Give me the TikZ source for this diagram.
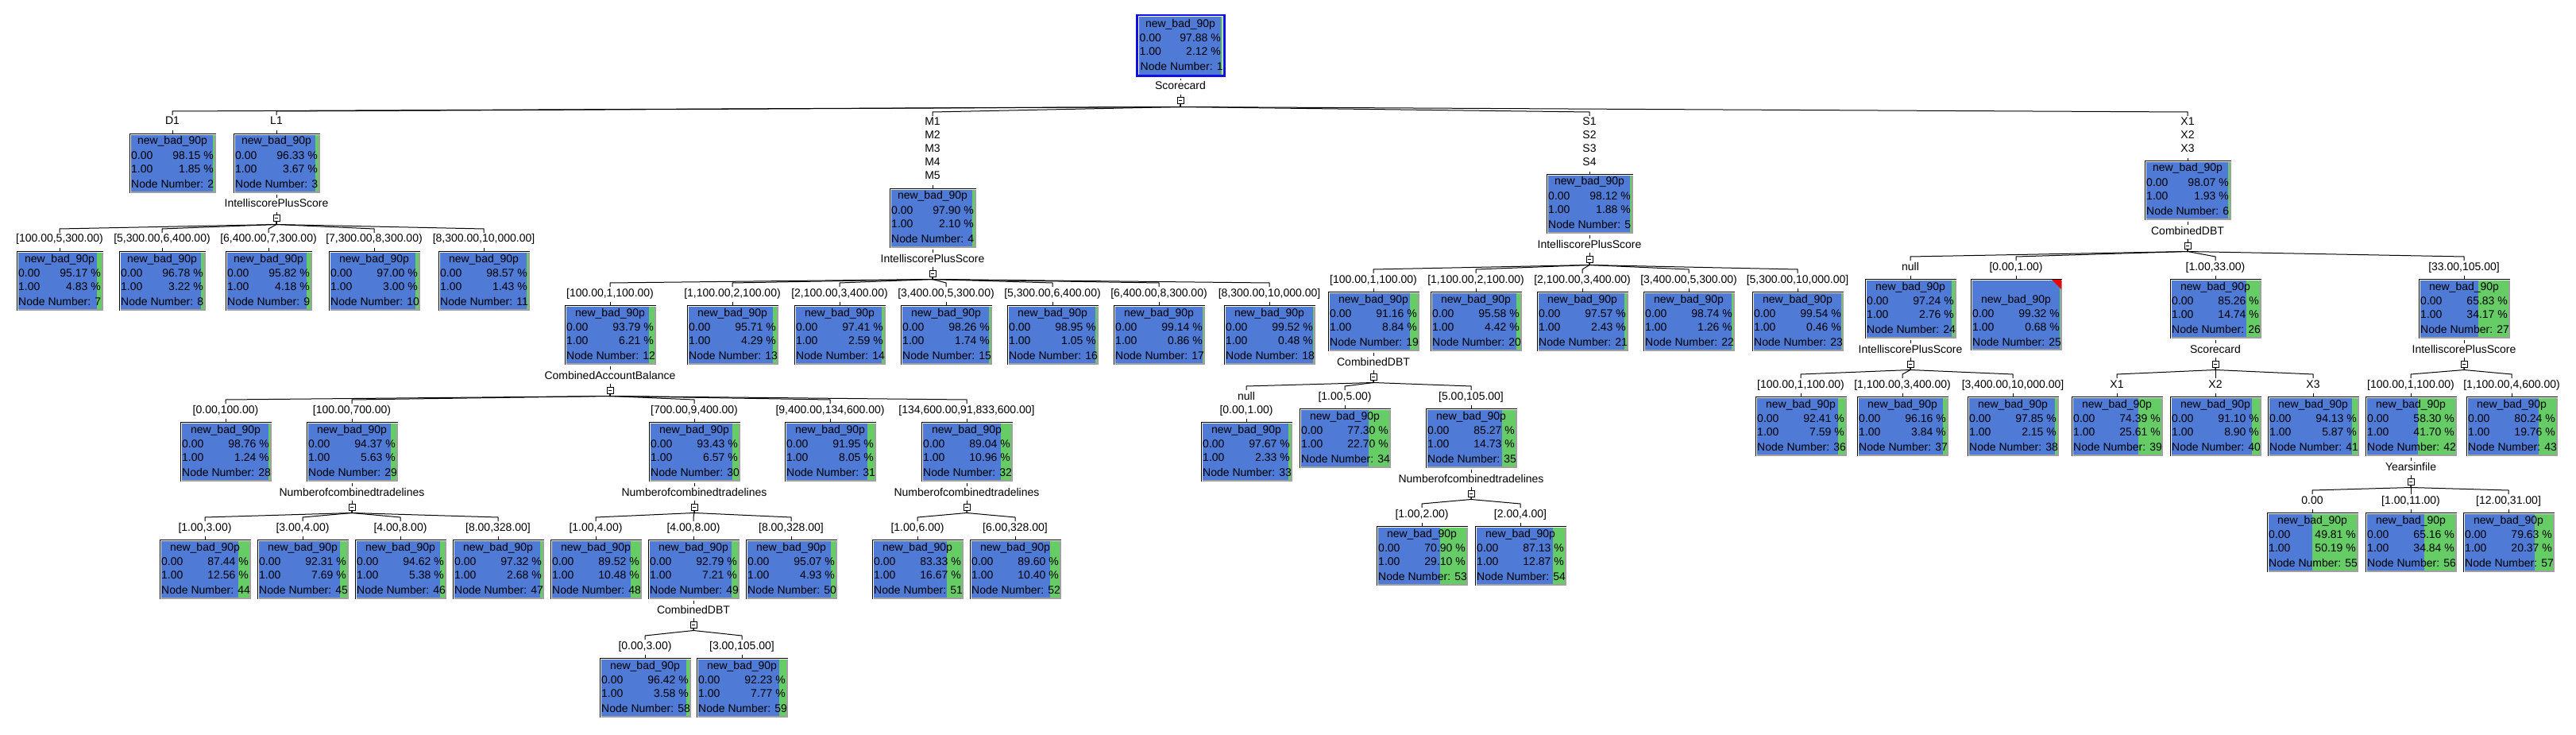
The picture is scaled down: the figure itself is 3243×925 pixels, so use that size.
\documentclass[tikz,border=0pt]{standalone}
\usepackage{fontspec}
\newfontfamily\tfont{Liberation Sans}
\newcommand{\tsz}{\tfont\fontsize{14pt}{16pt}\selectfont}
\definecolor{boxblue}{RGB}{79,122,214}
\definecolor{boxgreen}{RGB}{102,204,102}
\definecolor{shadowgray}{RGB}{160,160,160}
\definecolor{rootblue}{RGB}{16,16,230}
\definecolor{flagred}{RGB}{240,0,0}
\tikzset{
  txt/.style={font=\tsz, inner sep=0pt, text height=10pt, text depth=0pt},
  lbl/.style={txt, anchor=center},
  bx/.style={inner sep=0pt, minimum height=75pt},
  tog/.style={draw, line width=1pt, fill=white, minimum size=8pt, inner sep=0pt,
    path picture={\draw[line width=1pt] ([xshift=1.8pt]path picture bounding box.west) -- ([xshift=-1.8pt]path picture bounding box.east);}},
  conn/.style={line width=1pt}
}
\def\bxH{75}\def\bxO{0}
\newcommand{\tbox}[6]{%
  \pgfmathsetmacro{\bxL}{#2-#4/2}%
  \pgfmathsetmacro{\bxR}{#2+#4/2}%
  \pgfmathsetmacro{\bxB}{#3+\bxH}%
  \pgfmathsetmacro{\bxG}{\bxR-2-(#4-4)*#6/100}%
  \fill[boxblue] (\bxL+2,#3+2) rectangle (\bxR-2,\bxB-2);
  \fill[boxgreen] (\bxG,#3+2) rectangle (\bxR-2,\bxB-2);
  \fill[shadowgray] (\bxR-2,#3+2) rectangle (\bxR,\bxB);
  \fill[shadowgray] (\bxL+2,\bxB-2) rectangle (\bxR,\bxB);
  \draw[line width=1pt] (\bxL+0.5,\bxB) -- (\bxL+0.5,#3+0.5) -- (\bxR,#3+0.5);
  \node[bx, minimum width=#4pt, minimum height=\bxH pt] (n#1) at (#2,#3+\bxH/2) {};
  \node[txt] (n#1t) at (#2,#3+9+\bxO) {new\_bad\_90p};
  \node[txt,anchor=west] (n#1a) at (\bxL+2.5,#3+27.5+\bxO) {0.00};
  \node[txt,anchor=east] (n#1b) at (\bxR-2.5,#3+27.5+\bxO) {#5 \%};
  \node[txt,anchor=west] (n#1c) at (\bxL+2.5,#3+44.5+\bxO) {1.00};
  \node[txt,anchor=east] (n#1d) at (\bxR-2.5,#3+44.5+\bxO) {#6 \%};
  \node[txt,anchor=west] (n#1e) at (\bxL+2.5,#3+63.5+\bxO) {Node Number: #1};
}
\newcommand{\tsplit}[4]{%
  \node[lbl] (s#1) at (#2,#3+13) {#4};
  \node[tog] (t#1) at (#2,#3+32) {};
  \draw[conn, shorten <=2pt, shorten >=2pt] (n#1.south) -- (s#1.north);
  \draw[conn, shorten <=6pt] (s#1.south) -- (t#1.north);
}
\newcommand{\tchild}[5]{%
  \node[lbl] (b#2) at (#3,#4-16) {#5};
  \coordinate (f#2) at (#3,#4-28);
  \draw[conn, shorten >=2pt] (t#1.south) -- ++(0,3) -- (f#2) -- (b#2.north);
  \draw[conn, shorten <=7pt] (b#2.south) -- (n#2.north);
}
\begin{document}
\begin{tikzpicture}[x=1pt,y=-1pt]
\useasboundingbox[fill=white] (0,0) rectangle (3243,925);
% root
\draw[rootblue, line width=2.5pt] (1431.25,19.25) rectangle (1541.25,95.75);
\fill[boxblue] (1433.5,21.5) rectangle (1539,94);
\fill[boxgreen] (1536.8,21.5) rectangle (1539,94);
\node[bx, minimum width=112pt, minimum height=79pt] (n1) at (1486,57.5) {};
\node[txt] (n1t) at (1486,30) {new\_bad\_90p};
\node[txt,anchor=west] (n1a) at (1434.5,48) {0.00};
\node[txt,anchor=east] (n1b) at (1537,48) {97.88 \%};
\node[txt,anchor=west] (n1c) at (1434.5,65) {1.00};
\node[txt,anchor=east] (n1d) at (1537,65) {2.12 \%};
\node[txt,anchor=west] (n1e) at (1435.5,84) {Node Number: 1};
% boxes
\tbox{2}{217}{168}{109}{98.15}{1.85}
\tbox{3}{348}{168}{109}{96.33}{3.67}
\tbox{4}{1174}{237}{109}{97.90}{2.10}
\tbox{5}{2001}{219}{109}{98.12}{1.88}
\tbox{6}{2754}{202}{109}{98.07}{1.93}
\tbox{7}{75}{316}{109}{95.17}{4.83}
\tbox{8}{204}{316}{109}{96.78}{3.22}
\tbox{9}{338}{316}{109}{95.82}{4.18}
\tbox{10}{471}{316}{115}{97.00}{3.00}
\tbox{11}{609}{316}{115}{98.57}{1.43}
\tbox{12}{768}{384}{115}{93.79}{6.21}
\tbox{13}{922}{384}{115}{95.71}{4.29}
\tbox{14}{1057}{384}{115}{97.41}{2.59}
\tbox{15}{1191}{384}{115}{98.26}{1.74}
\tbox{16}{1325}{384}{115}{98.95}{1.05}
\tbox{17}{1459}{384}{115}{99.14}{0.86}
\tbox{18}{1598}{384}{115}{99.52}{0.48}
\tbox{19}{1729}{367}{115}{91.16}{8.84}
\tbox{20}{1858}{367}{115}{95.58}{4.42}
\tbox{21}{1992}{367}{115}{97.57}{2.43}
\tbox{22}{2126}{367}{115}{98.74}{1.26}
\tbox{23}{2263}{367}{115}{99.54}{0.46}
\tbox{24}{2405}{351}{115}{97.24}{2.76}
\begin{scope}
\def\bxH{90}\def\bxO{16}
\tbox{25}{2538}{351}{115}{99.32}{0.68}
\end{scope}
\fill[flagred] (2583,352) -- (2595,352) -- (2595,364) -- cycle;
\tbox{26}{2789}{351}{115}{85.26}{14.74}
\tbox{27}{3102}{351}{115}{65.83}{34.17}
\tbox{28}{284}{531}{115}{98.76}{1.24}
\tbox{29}{443}{531}{115}{94.37}{5.63}
\tbox{30}{874}{531}{115}{93.43}{6.57}
\tbox{31}{1045}{531}{115}{91.95}{8.05}
\tbox{32}{1217}{531}{115}{89.04}{10.96}
\tbox{33}{1569}{531}{115}{97.67}{2.33}
\tbox{34}{1693}{514}{115}{77.30}{22.70}
\tbox{35}{1852}{514}{115}{85.27}{14.73}
\tbox{36}{2267}{499}{115}{92.41}{7.59}
\tbox{37}{2395}{499}{115}{96.16}{3.84}
\tbox{38}{2534}{499}{115}{97.85}{2.15}
\tbox{39}{2665}{499}{115}{74.39}{25.61}
\tbox{40}{2789}{499}{115}{91.10}{8.90}
\tbox{41}{2912}{499}{115}{94.13}{5.87}
\tbox{42}{3035}{499}{115}{58.30}{41.70}
\tbox{43}{3162}{499}{115}{80.24}{19.76}
\tbox{44}{258}{679}{115}{87.44}{12.56}
\tbox{45}{381}{679}{115}{92.31}{7.69}
\tbox{46}{504}{679}{115}{94.62}{5.38}
\tbox{47}{627}{679}{115}{97.32}{2.68}
\tbox{48}{750}{679}{115}{89.52}{10.48}
\tbox{49}{873}{679}{115}{92.79}{7.21}
\tbox{50}{996}{679}{115}{95.07}{4.93}
\tbox{51}{1155}{679}{115}{83.33}{16.67}
\tbox{52}{1278}{679}{115}{89.60}{10.40}
\tbox{53}{1790}{662}{115}{70.90}{29.10}
\tbox{54}{1914}{662}{115}{87.13}{12.87}
\tbox{55}{2911}{645}{115}{49.81}{50.19}
\tbox{56}{3035}{645}{115}{65.16}{34.84}
\tbox{57}{3158}{645}{115}{79.63}{20.37}
\tbox{58}{812}{828}{115}{96.42}{3.58}
\tbox{59}{934}{828}{115}{92.23}{7.77}
% splits
\tsplit{1}{1486}{95}{Scorecard}
\tsplit{3}{348}{243}{IntelliscorePlusScore}
\tsplit{4}{1174}{312}{IntelliscorePlusScore}
\tsplit{5}{2001}{294}{IntelliscorePlusScore}
\tsplit{6}{2754}{277}{CombinedDBT}
\tsplit{12}{768}{459}{CombinedAccountBalance}
\tsplit{19}{1729}{442}{CombinedDBT}
\tsplit{24}{2405}{426}{IntelliscorePlusScore}
\tsplit{26}{2789}{426}{Scorecard}
\tsplit{27}{3102}{426}{IntelliscorePlusScore}
\tsplit{29}{443}{606}{Numberofcombinedtradelines}
\tsplit{30}{874}{606}{Numberofcombinedtradelines}
\tsplit{32}{1217}{606}{Numberofcombinedtradelines}
\tsplit{35}{1852}{589}{Numberofcombinedtradelines}
\tsplit{42}{3035}{574}{Yearsinfile}
\tsplit{49}{873}{754}{CombinedDBT}
% level 1
\tchild{1}{2}{217}{168}{D1}
\tchild{1}{3}{348}{168}{L1}
\node[lbl] (b4) at (1174,153) {M1};
\node[lbl] (b4b) at (1174,170) {M2};
\node[lbl] (b4c) at (1174,187) {M3};
\node[lbl] (b4d) at (1174,204) {M4};
\node[lbl] (b4e) at (1174,221) {M5};
\coordinate (f4) at (1174,141);
\draw[conn, shorten >=2pt] (t1.south) -- ++(0,3) -- (f4) -- (b4.north);
\draw[conn, shorten <=7pt] (b4e.south) -- (n4.north);
\node[lbl] (b5) at (2001,153) {S1};
\node[lbl] (b5b) at (2001,170) {S2};
\node[lbl] (b5c) at (2001,187) {S3};
\node[lbl] (b5d) at (2001,204) {S4};
\coordinate (f5) at (2001,141);
\draw[conn, shorten >=2pt] (t1.south) -- ++(0,3) -- (f5) -- (b5.north);
\draw[conn, shorten <=7pt] (b5d.south) -- (n5.north);
\node[lbl] (b6) at (2754,153) {X1};
\node[lbl] (b6b) at (2754,170) {X2};
\node[lbl] (b6c) at (2754,187) {X3};
\coordinate (f6) at (2754,141);
\draw[conn, shorten >=2pt] (t1.south) -- ++(0,3) -- (f6) -- (b6.north);
\draw[conn, shorten <=7pt] (b6c.south) -- (n6.north);
% level 2
\tchild{3}{7}{75}{316}{[100.00,5,300.00)}
\tchild{3}{8}{204}{316}{[5,300.00,6,400.00)}
\tchild{3}{9}{338}{316}{[6,400.00,7,300.00)}
\tchild{3}{10}{471}{316}{[7,300.00,8,300.00)}
\tchild{3}{11}{609}{316}{[8,300.00,10,000.00]}
\tchild{4}{12}{768}{384}{[100.00,1,100.00)}
\tchild{4}{13}{922}{384}{[1,100.00,2,100.00)}
\tchild{4}{14}{1057}{384}{[2,100.00,3,400.00)}
\tchild{4}{15}{1191}{384}{[3,400.00,5,300.00)}
\tchild{4}{16}{1325}{384}{[5,300.00,6,400.00)}
\tchild{4}{17}{1459}{384}{[6,400.00,8,300.00)}
\tchild{4}{18}{1598}{384}{[8,300.00,10,000.00]}
\tchild{5}{19}{1729}{367}{[100.00,1,100.00)}
\tchild{5}{20}{1858}{367}{[1,100.00,2,100.00)}
\tchild{5}{21}{1992}{367}{[2,100.00,3,400.00)}
\tchild{5}{22}{2126}{367}{[3,400.00,5,300.00)}
\tchild{5}{23}{2263}{367}{[5,300.00,10,000.00]}
\tchild{6}{24}{2405}{351}{null}
\tchild{6}{25}{2538}{351}{[0.00,1.00)}
\tchild{6}{26}{2789}{351}{[1.00,33.00)}
\tchild{6}{27}{3102}{351}{[33.00,105.00]}
% level 3
\tchild{12}{28}{284}{531}{[0.00,100.00)}
\tchild{12}{29}{443}{531}{[100.00,700.00)}
\tchild{12}{30}{874}{531}{[700.00,9,400.00)}
\tchild{12}{31}{1045}{531}{[9,400.00,134,600.00)}
\tchild{12}{32}{1217}{531}{[134,600.00,91,833,600.00]}
\node[lbl] (b33) at (1569,498) {null};
\node[lbl] (b33b) at (1569,515) {[0.00,1.00)};
\coordinate (f33) at (1569,486);
\draw[conn, shorten >=2pt] (t19.south) -- ++(0,3) -- (f33) -- (b33.north);
\draw[conn, shorten <=7pt] (b33b.south) -- (n33.north);
\tchild{19}{34}{1693}{514}{[1.00,5.00)}
\tchild{19}{35}{1852}{514}{[5.00,105.00]}
\tchild{24}{36}{2267}{499}{[100.00,1,100.00)}
\tchild{24}{37}{2395}{499}{[1,100.00,3,400.00)}
\tchild{24}{38}{2534}{499}{[3,400.00,10,000.00]}
\tchild{26}{39}{2665}{499}{X1}
\tchild{26}{40}{2789}{499}{X2}
\tchild{26}{41}{2912}{499}{X3}
\tchild{27}{42}{3035}{499}{[100.00,1,100.00)}
\tchild{27}{43}{3162}{499}{[1,100.00,4,600.00)}
% level 4
\tchild{29}{44}{258}{679}{[1.00,3.00)}
\tchild{29}{45}{381}{679}{[3.00,4.00)}
\tchild{29}{46}{504}{679}{[4.00,8.00)}
\tchild{29}{47}{627}{679}{[8.00,328.00]}
\tchild{30}{48}{750}{679}{[1.00,4.00)}
\tchild{30}{49}{873}{679}{[4.00,8.00)}
\tchild{30}{50}{996}{679}{[8.00,328.00]}
\tchild{32}{51}{1155}{679}{[1.00,6.00)}
\tchild{32}{52}{1278}{679}{[6.00,328.00]}
\tchild{35}{53}{1790}{662}{[1.00,2.00)}
\tchild{35}{54}{1914}{662}{[2.00,4.00]}
\tchild{42}{55}{2911}{645}{0.00}
\tchild{42}{56}{3035}{645}{[1.00,11.00)}
\tchild{42}{57}{3158}{645}{[12.00,31.00]}
% level 5
\tchild{49}{58}{812}{828}{[0.00,3.00)}
\tchild{49}{59}{934}{828}{[3.00,105.00]}
\end{tikzpicture}
\end{document}
